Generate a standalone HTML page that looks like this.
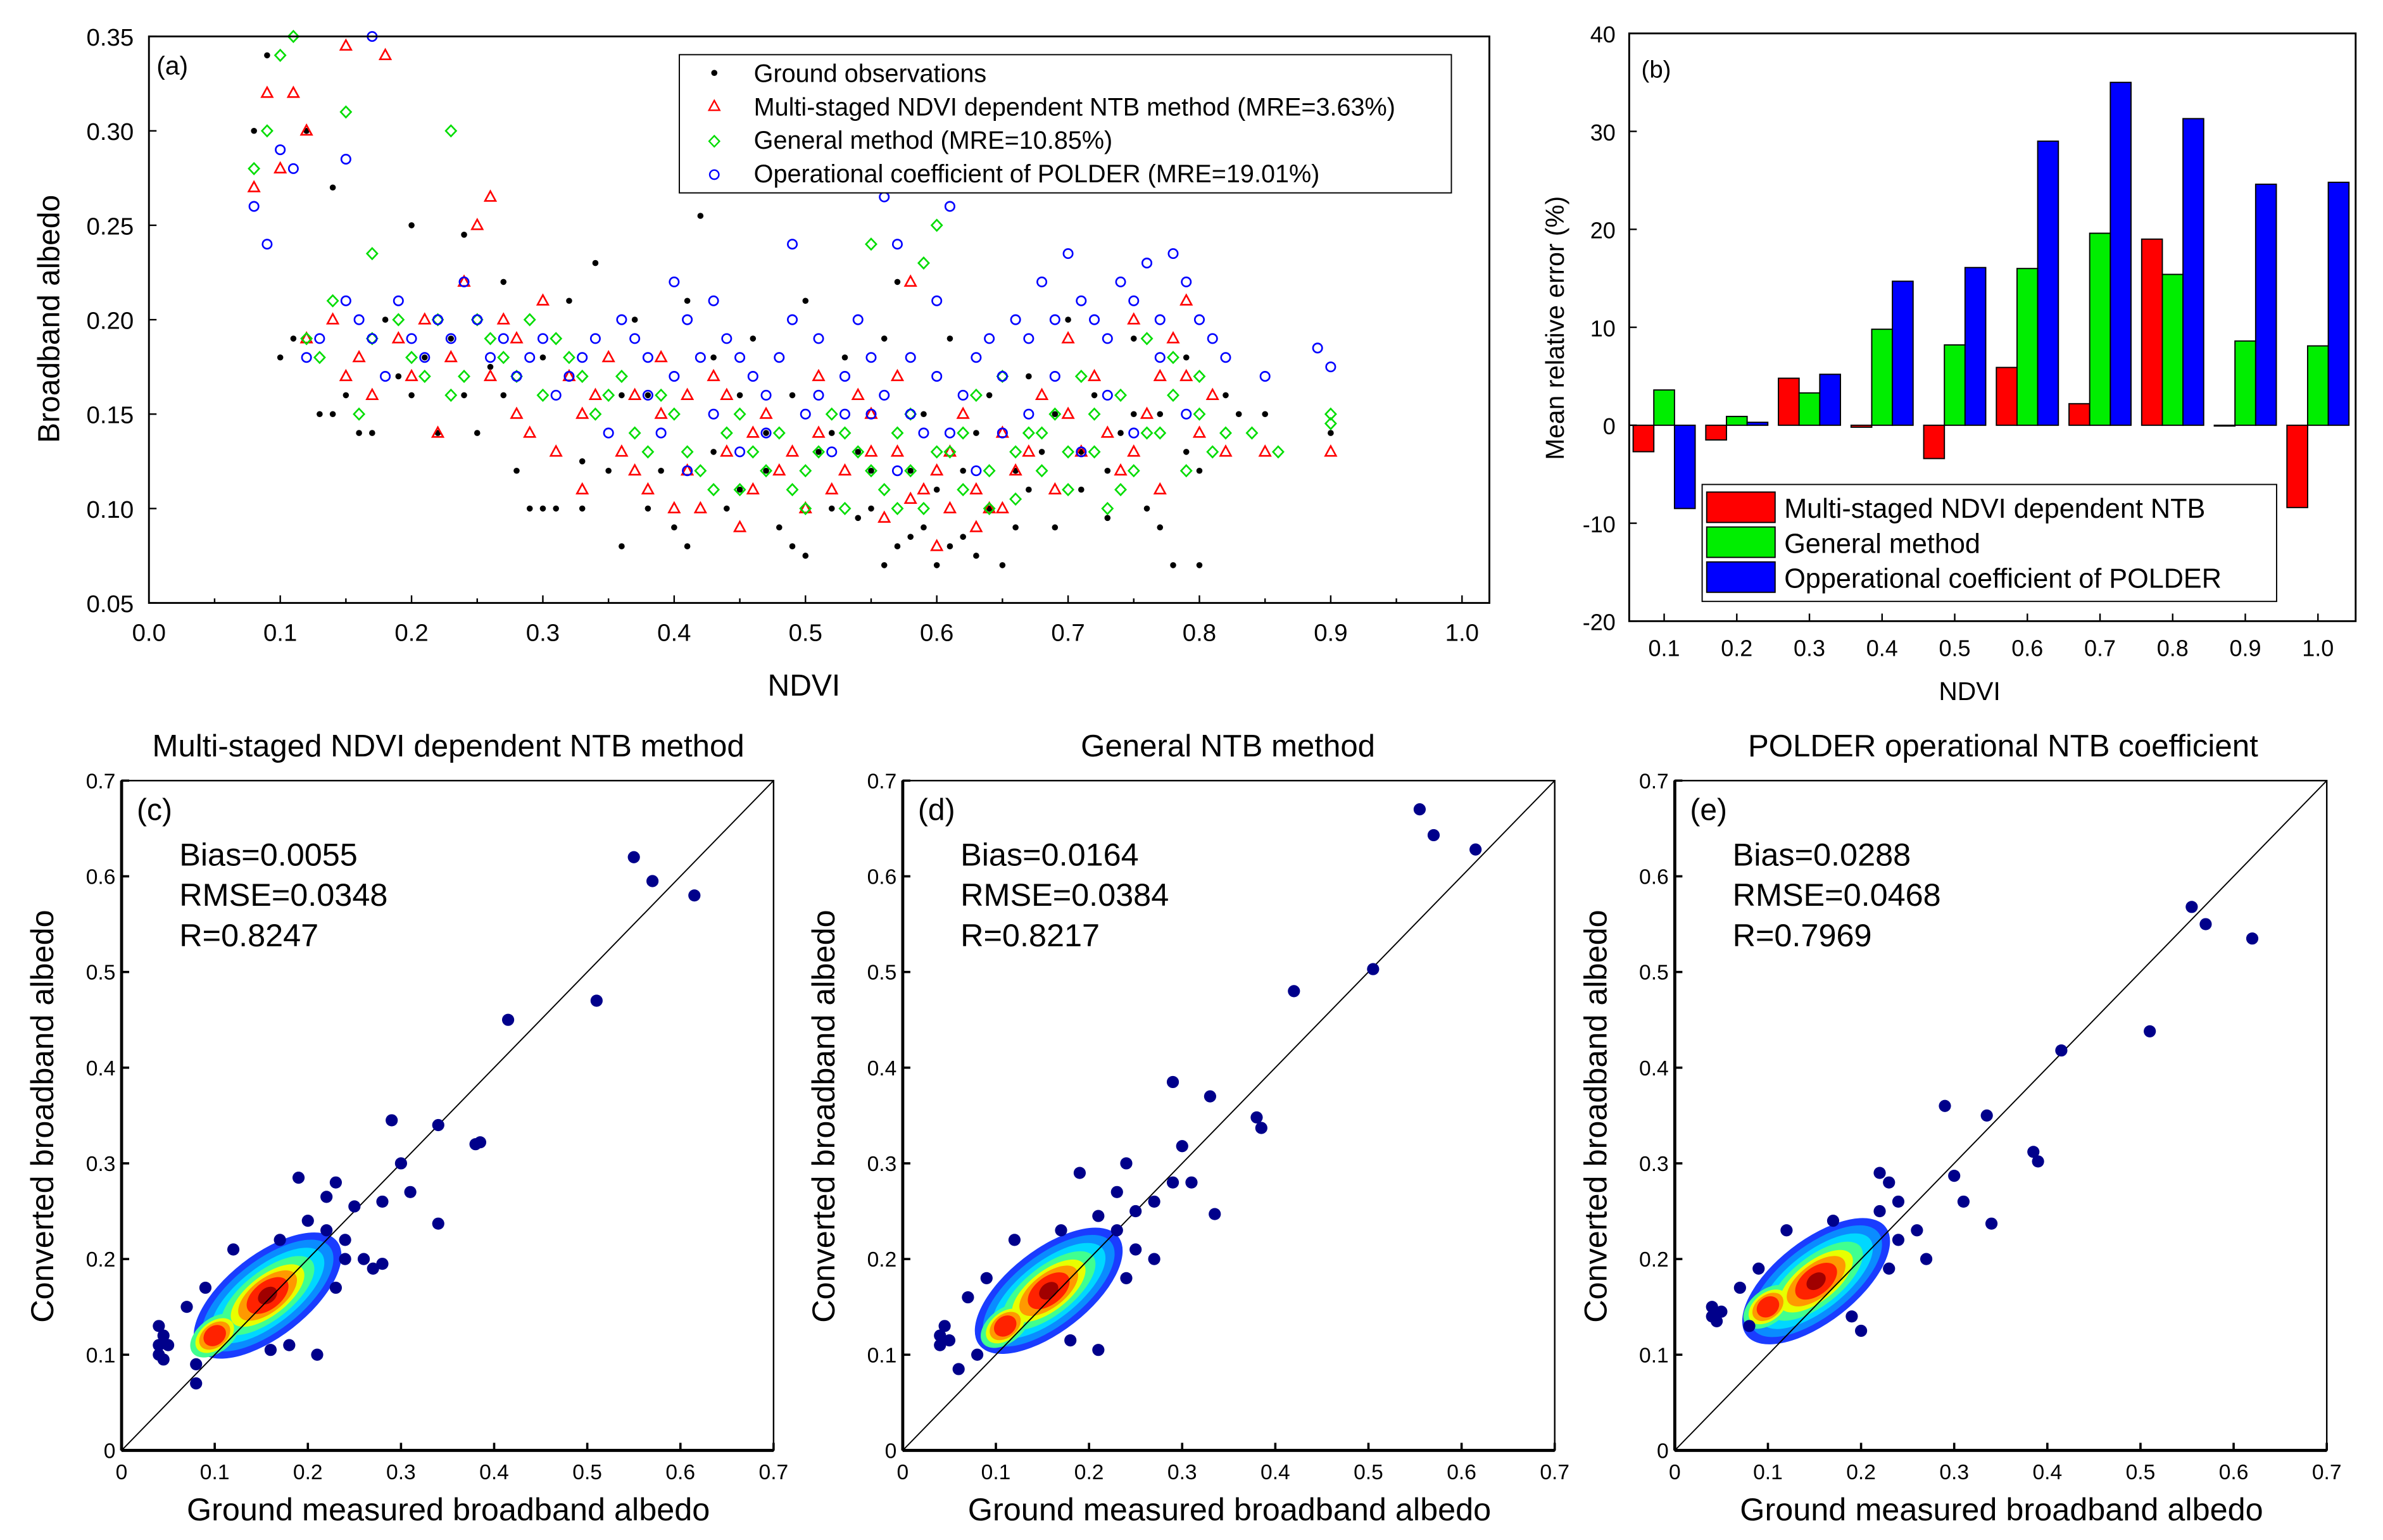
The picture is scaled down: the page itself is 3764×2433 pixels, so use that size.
<!DOCTYPE html>
<html><head><meta charset="utf-8">
<style>
html,body{margin:0;padding:0;background:#fff;}
svg{display:block;font-family:"Liberation Sans",Arial,sans-serif;}
</style></head>
<body>
<svg id="fig" width="3764" height="2433" viewBox="0 0 1568 1014" preserveAspectRatio="none" xmlns="http://www.w3.org/2000/svg">
<rect x="0" y="0" width="1568" height="1014" fill="#fff"/>
</svg>
<script>
// ===== Panel (a) data =====
const obsPts = "0.08,0.30 0.09,0.34 0.1,0.18 0.12,0.30 0.14,0.27 0.13,0.15 0.15,0.16 0.16,0.14 0.17,0.14 0.18,0.20 0.2,0.25 0.2,0.16 0.22,0.14 0.23,0.19 0.24,0.245 0.25,0.14 0.26,0.175 0.27,0.16 0.28,0.12 0.29,0.10 0.3,0.18 0.31,0.10 0.32,0.21 0.33,0.125 0.34,0.23 0.35,0.12 0.36,0.08 0.37,0.2 0.38,0.16 0.39,0.12 0.4,0.09 0.41,0.21 0.42,0.255 0.43,0.13 0.44,0.1 0.45,0.16 0.46,0.19 0.47,0.12 0.48,0.09 0.49,0.16 0.5,0.21 0.5,0.075 0.51,0.13 0.52,0.1 0.53,0.18 0.54,0.095 0.55,0.12 0.56,0.07 0.57,0.22 0.58,0.085 0.59,0.15 0.6,0.07 0.6,0.11 0.61,0.19 0.62,0.085 0.63,0.14 0.64,0.1 0.65,0.07 0.66,0.12 0.67,0.17 0.68,0.13 0.69,0.09 0.7,0.2 0.71,0.11 0.72,0.16 0.73,0.095 0.74,0.14 0.75,0.19 0.76,0.1 0.77,0.15 0.78,0.07 0.79,0.18 0.8,0.07 0.8,0.12 0.83,0.15 0.85,0.15 0.9,0.14 0.11,0.19 0.14,0.15 0.19,0.17 0.21,0.18 0.24,0.16 0.27,0.22 0.3,0.1 0.33,0.1 0.36,0.16 0.38,0.1 0.41,0.08 0.43,0.18 0.45,0.11 0.47,0.14 0.49,0.08 0.52,0.14 0.54,0.13 0.55,0.1 0.57,0.08 0.58,0.12 0.59,0.09 0.61,0.08 0.62,0.12 0.63,0.075 0.64,0.16 0.66,0.09 0.67,0.11 0.69,0.15 0.71,0.13 0.73,0.12 0.75,0.15 0.77,0.09 0.79,0.13 0.82,0.16 0.57,0.27 0.56,0.19";
const ntbPts = "0.08,0.27 0.09,0.32 0.1,0.28 0.11,0.32 0.12,0.30 0.15,0.345 0.18,0.34 0.14,0.2 0.16,0.18 0.17,0.16 0.2,0.17 0.22,0.14 0.24,0.22 0.25,0.25 0.26,0.265 0.27,0.2 0.28,0.19 0.29,0.14 0.3,0.21 0.32,0.17 0.33,0.11 0.34,0.16 0.36,0.13 0.37,0.16 0.38,0.11 0.39,0.15 0.4,0.1 0.41,0.12 0.43,0.17 0.44,0.13 0.45,0.09 0.46,0.11 0.47,0.15 0.48,0.12 0.5,0.1 0.51,0.14 0.52,0.11 0.54,0.16 0.55,0.13 0.56,0.095 0.57,0.17 0.58,0.105 0.6,0.12 0.6,0.08 0.61,0.1 0.62,0.15 0.63,0.11 0.64,0.1 0.65,0.14 0.66,0.12 0.68,0.16 0.69,0.11 0.7,0.19 0.71,0.13 0.72,0.17 0.74,0.12 0.75,0.2 0.76,0.15 0.77,0.11 0.78,0.19 0.79,0.17 0.8,0.14 0.82,0.13 0.85,0.13 0.9,0.13 0.12,0.19 0.15,0.17 0.19,0.19 0.21,0.2 0.23,0.18 0.26,0.17 0.28,0.15 0.31,0.13 0.33,0.15 0.35,0.18 0.37,0.12 0.39,0.18 0.41,0.16 0.42,0.1 0.44,0.16 0.46,0.14 0.49,0.13 0.51,0.17 0.53,0.12 0.55,0.15 0.57,0.13 0.59,0.11 0.61,0.13 0.63,0.09 0.65,0.1 0.67,0.13 0.7,0.15 0.73,0.14 0.75,0.13 0.77,0.17 0.79,0.21 0.81,0.16 0.58,0.22";
const genPts = "0.08,0.28 0.09,0.3 0.1,0.34 0.11,0.35 0.13,0.18 0.15,0.31 0.16,0.15 0.17,0.235 0.19,0.2 0.21,0.17 0.23,0.3 0.23,0.16 0.25,0.2 0.27,0.18 0.29,0.2 0.3,0.16 0.32,0.18 0.34,0.15 0.36,0.17 0.38,0.13 0.4,0.15 0.42,0.12 0.44,0.14 0.45,0.11 0.46,0.13 0.48,0.14 0.49,0.11 0.5,0.12 0.52,0.15 0.53,0.1 0.54,0.13 0.55,0.24 0.56,0.11 0.57,0.14 0.58,0.12 0.59,0.1 0.6,0.25 0.61,0.13 0.62,0.11 0.63,0.16 0.64,0.12 0.65,0.17 0.66,0.105 0.67,0.14 0.68,0.12 0.69,0.15 0.7,0.11 0.71,0.17 0.72,0.13 0.73,0.1 0.74,0.16 0.75,0.12 0.76,0.19 0.77,0.14 0.78,0.16 0.79,0.12 0.8,0.15 0.81,0.13 0.84,0.14 0.86,0.13 0.9,0.15 0.9,0.145 0.12,0.19 0.14,0.21 0.17,0.19 0.2,0.18 0.22,0.2 0.24,0.17 0.26,0.19 0.28,0.17 0.31,0.19 0.33,0.17 0.35,0.16 0.37,0.14 0.39,0.16 0.41,0.13 0.43,0.11 0.45,0.15 0.47,0.12 0.5,0.1 0.51,0.13 0.53,0.14 0.55,0.12 0.57,0.1 0.58,0.15 0.6,0.13 0.62,0.14 0.64,0.1 0.66,0.13 0.68,0.14 0.7,0.13 0.72,0.15 0.74,0.11 0.76,0.14 0.78,0.18 0.8,0.17 0.82,0.14 0.59,0.23";
const polPts = "0.08,0.26 0.09,0.24 0.1,0.29 0.11,0.28 0.12,0.18 0.15,0.285 0.17,0.35 0.16,0.2 0.18,0.17 0.2,0.19 0.22,0.2 0.24,0.22 0.26,0.18 0.28,0.17 0.3,0.19 0.31,0.16 0.33,0.18 0.35,0.14 0.37,0.19 0.38,0.16 0.39,0.14 0.4,0.22 0.41,0.12 0.42,0.18 0.43,0.15 0.44,0.19 0.45,0.13 0.46,0.17 0.47,0.14 0.48,0.18 0.49,0.24 0.5,0.15 0.51,0.19 0.52,0.13 0.53,0.17 0.54,0.2 0.55,0.15 0.56,0.265 0.57,0.12 0.58,0.18 0.59,0.14 0.6,0.21 0.61,0.26 0.62,0.16 0.63,0.12 0.64,0.19 0.65,0.14 0.66,0.2 0.67,0.15 0.68,0.22 0.69,0.17 0.7,0.235 0.71,0.13 0.72,0.2 0.73,0.16 0.74,0.22 0.75,0.14 0.76,0.23 0.77,0.18 0.78,0.235 0.79,0.15 0.8,0.2 0.82,0.18 0.85,0.17 0.89,0.185 0.9,0.175 0.13,0.19 0.15,0.21 0.17,0.19 0.19,0.21 0.21,0.18 0.23,0.19 0.25,0.2 0.27,0.19 0.29,0.18 0.32,0.17 0.34,0.19 0.36,0.2 0.38,0.18 0.4,0.17 0.41,0.2 0.43,0.21 0.45,0.18 0.47,0.16 0.49,0.2 0.51,0.16 0.53,0.15 0.55,0.18 0.56,0.16 0.58,0.15 0.6,0.17 0.61,0.14 0.63,0.18 0.65,0.17 0.67,0.19 0.69,0.2 0.71,0.21 0.73,0.19 0.75,0.21 0.77,0.2 0.79,0.22 0.81,0.19 0.57,0.24";
const aXTicks = [0,0.1,0.2,0.3,0.4,0.5,0.6,0.7,0.8,0.9,1.0];
const aYTicks = [0.05,0.10,0.15,0.20,0.25,0.30,0.35];

// ===== Panel (b) data =====
const bCats = ["0.1","0.2","0.3","0.4","0.5","0.6","0.7","0.8","0.9","1.0"];
const bNtb = [-2.7,-1.5,4.8,-0.2,-3.4,5.9,2.2,19.0,0,-8.4];
const bGen = [3.6,0.9,3.3,9.8,8.2,16.0,19.6,15.4,8.6,8.1];
const bPol = [-8.5,0.3,5.2,14.7,16.1,29.0,35.0,31.3,24.6,24.8];
const bYTicks = [-20,-10,0,10,20,30,40];

// ===== Panels (c)(d)(e) data =====
const cOut = [[0.55,0.62],[0.57,0.595],[0.615,0.58],[0.51,0.47],[0.415,0.45],[0.38,0.32],[0.385,0.322],[0.34,0.34],[0.29,0.345],[0.3,0.3],[0.34,0.237],[0.31,0.27],[0.28,0.26],[0.26,0.2],[0.27,0.19],[0.28,0.195],[0.04,0.13],[0.04,0.1],[0.045,0.12],[0.05,0.11],[0.04,0.11],[0.045,0.095],[0.08,0.07],[0.19,0.285],[0.23,0.28],[0.21,0.1],[0.25,0.255],[0.24,0.22],[0.22,0.265],[0.2,0.24],[0.22,0.23],[0.24,0.2],[0.23,0.17],[0.18,0.11],[0.16,0.105],[0.07,0.15],[0.09,0.17],[0.12,0.21],[0.17,0.22],[0.08,0.09]];
const dOut = [[0.555,0.67],[0.57,0.643],[0.615,0.628],[0.505,0.503],[0.42,0.48],[0.33,0.37],[0.29,0.385],[0.38,0.348],[0.385,0.337],[0.3,0.318],[0.335,0.247],[0.31,0.28],[0.29,0.28],[0.27,0.26],[0.04,0.12],[0.04,0.11],[0.045,0.13],[0.05,0.115],[0.06,0.085],[0.19,0.29],[0.24,0.3],[0.25,0.25],[0.21,0.105],[0.27,0.2],[0.23,0.27],[0.21,0.245],[0.23,0.23],[0.25,0.21],[0.24,0.18],[0.18,0.115],[0.07,0.16],[0.09,0.18],[0.12,0.22],[0.17,0.23],[0.08,0.1]];
const eOut = [[0.555,0.568],[0.57,0.55],[0.62,0.535],[0.51,0.438],[0.415,0.418],[0.29,0.36],[0.335,0.35],[0.385,0.312],[0.39,0.302],[0.3,0.287],[0.34,0.237],[0.31,0.26],[0.04,0.15],[0.04,0.14],[0.05,0.145],[0.045,0.135],[0.22,0.29],[0.24,0.26],[0.27,0.2],[0.2,0.125],[0.23,0.28],[0.26,0.23],[0.22,0.25],[0.24,0.22],[0.23,0.19],[0.19,0.14],[0.07,0.17],[0.09,0.19],[0.12,0.23],[0.17,0.24],[0.08,0.13]];
const cCore = [[0.16,0.165],[0.10,0.12]];
const dCore = [[0.16,0.17],[0.11,0.13]];
const eCore = [[0.155,0.18],[0.10,0.15]];
const sXTicks = [0,0.1,0.2,0.3,0.4,0.5,0.6,0.7];

const NS="http://www.w3.org/2000/svg";
const svg=document.getElementById('fig');
function mk(tag,attrs,parent){const e=document.createElementNS(NS,tag);for(const k in attrs)e.setAttribute(k,attrs[k]);(parent||svg).appendChild(e);return e;}
function txt(s,x,y,size,anchor,parent,rot){const t=mk('text',{x:x,y:y,'font-size':size,'text-anchor':anchor||'start',fill:'#000'},parent);if(rot)t.setAttribute('transform',`rotate(${rot} ${x} ${y})`);t.textContent=s;return t;}
function parsePts(s){return s.trim().split(/\s+/).map(p=>p.split(',').map(Number));}

// ===== Panel (a) =====
const gA=mk('g',{});


const aL=98,aR=962,aT=24,aB=397,aBoxR=980;
const ax=v=>aL+(v-0)/(1.0)*(aR-aL);
const ay=v=>aB-(v-0.05)/(0.30)*(aB-aT);
function drawSeries(pts,kind,color,name){
  const g=mk('g',{},gA);
  
  
  parsePts(pts).forEach(([x,y])=>{
    const X=ax(x),Y=ay(y);
    if(kind==='dot'){mk('circle',{cx:X,cy:Y,r:2,fill:color},g);}
    else if(kind==='tri'){mk('polygon',{points:`${X},${Y-3.8} ${X-3.5},${Y+2.6} ${X+3.5},${Y+2.6}`,fill:'none',stroke:color,'stroke-width':1.1},g);}
    else if(kind==='dia'){mk('polygon',{points:`${X},${Y-3.6} ${X+3.4},${Y} ${X},${Y+3.6} ${X-3.4},${Y}`,fill:'none',stroke:color,'stroke-width':1.1},g);}
    else {mk('circle',{cx:X,cy:Y,r:3,fill:'none',stroke:color,'stroke-width':1.1},g);}
  });
}
drawSeries(obsPts,'dot','#000','ground-observations-series');
drawSeries(ntbPts,'tri','#ff0000','ntb-method-series');
drawSeries(genPts,'dia','#00dd00','general-method-series');
drawSeries(polPts,'circ','#0000ff','polder-series');
mk('rect',{x:aL,y:aT,width:aBoxR-aL,height:aB-aT,fill:'none',stroke:'#000','stroke-width':1.2},gA);
aXTicks.forEach(v=>{const X=ax(v);mk('line',{x1:X,y1:aB,x2:X,y2:aB-5,stroke:'#000','stroke-width':1},gA);txt(v.toFixed(1),X,aB+25,16,'middle',gA);});
for(let v=0.05;v<1.0;v+=0.1){const X=ax(v);mk('line',{x1:X,y1:aB,x2:X,y2:aB-3,stroke:'#000','stroke-width':1},gA);}
aYTicks.forEach(v=>{const Y=ay(v);mk('line',{x1:aL,y1:Y,x2:aL+5,y2:Y,stroke:'#000','stroke-width':1},gA);txt(v.toFixed(2),88,Y+6,16,'end',gA);});
txt('NDVI',529,458,20,'middle',gA);
txt('Broadband albedo',39,210,20,'middle',gA,-90);
txt('(a)',103,49,17,'start',gA);
const lgA=mk('g',{},gA);


mk('rect',{x:447,y:36,width:508,height:91,fill:'#fff',stroke:'#000','stroke-width':0.8},lgA);
mk('circle',{cx:470,cy:48,r:2,fill:'#000'},lgA);
mk('polygon',{points:'470,66.2 466.5,72.6 473.5,72.6',fill:'none',stroke:'#f00'},lgA);
mk('polygon',{points:'470,89.4 473.4,93 470,96.6 466.6,93',fill:'none',stroke:'#0d0'},lgA);
mk('circle',{cx:470,cy:115,r:3,fill:'none',stroke:'#00f'},lgA);
txt('Ground observations',496,54,16.5,'start',lgA);
txt('Multi-staged NDVI dependent NTB method (MRE=3.63%)',496,76,16.5,'start',lgA);
txt('General method (MRE=10.85%)',496,98,16.5,'start',lgA);
txt('Operational coefficient of POLDER (MRE=19.01%)',496,120,16.5,'start',lgA);

// ===== Panel (b) =====
const gB=mk('g',{});


const bL=1072,bR=1550,bT=22,bB=409;
const by=v=>bB-(v+20)/60*(bB-bT);
const bx=i=>1095+i*47.8;
const bw=13.6;
bCats.forEach((c,i)=>{
  const cx=bx(i);
  [[bNtb,'#ff0000',-1.5,'bar-ntb-'],[bGen,'#00ee00',-0.5,'bar-general-'],[bPol,'#0000ff',0.5,'bar-polder-']].forEach(([arr,col,off,nm])=>{
    const v=arr[i];const y0=by(0),y1=by(v);
    const r=mk('rect',{x:cx+off*bw,y:Math.min(y0,y1),width:bw,height:Math.max(Math.abs(y1-y0),0.5),fill:col,stroke:'#000','stroke-width':0.8},gB);
    
    
  });
  mk('line',{x1:cx,y1:bB,x2:cx,y2:bB-5,stroke:'#000'},gB);
  txt(c,cx,bB+23,15,'middle',gB);
});
mk('rect',{x:bL,y:bT,width:bR-bL,height:bB-bT,fill:'none',stroke:'#000','stroke-width':1.2},gB);
bYTicks.forEach(v=>{const Y=by(v);mk('line',{x1:bL,y1:Y,x2:bL+5,y2:Y,stroke:'#000'},gB);txt(String(v),1063,Y+6,15,'end',gB);});
txt('NDVI',1296,461,17,'middle',gB);
txt('Mean relative error (%)',1029,216,17,'middle',gB,-90);
txt('(b)',1080,51,16,'start',gB);
const lgB=mk('g',{},gB);


mk('rect',{x:1120,y:319,width:378,height:77,fill:'#fff',stroke:'#000','stroke-width':0.8},lgB);
[['#ff0000','Multi-staged NDVI dependent NTB',324],['#00ee00','General method',347],['#0000ff','Opperational coefficient of POLDER',370]].forEach(([c,s,y])=>{
  mk('rect',{x:1123,y:y,width:45,height:20,fill:c,stroke:'#000','stroke-width':0.8},lgB);
  txt(s,1174,y+17,18,'start',lgB);
});

// ===== Panels c,d,e =====
function densityPanel(x0,title,titleX,label,stats,outs,cores,name){
  const g=mk('g',{});
  
  
  const T=514,B=955,W=429;
  const sx=v=>x0+v/0.7*W;
  const sy=v=>B-v/0.7*(B-T);
  const layers=[[58,27,'#1a3cff'],[52,23,'#0a8cff'],[45,19,'#00d8ff'],[37,16,'#40ff90'],[29,13,'#e8ff00'],[23,11,'#ff9900'],[16,9,'#ff2200'],[7,5,'#a00000']];
  const [mx,my]=cores[0],[s2x,s2y]=cores[1];
  layers.forEach(([rx,ry,col],k)=>{
    mk('ellipse',{cx:sx(mx)-2,cy:sy(my)+2,rx:rx,ry:ry,fill:col,transform:`rotate(-38 ${sx(mx)-2} ${sy(my)+2})`},g);
    if(k>=3&&k<=6){mk('ellipse',{cx:sx(s2x),cy:sy(s2y),rx:rx*0.5,ry:ry*0.7,fill:col,transform:`rotate(-38 ${sx(s2x)} ${sy(s2y)})`},g);}
  });
  mk('line',{x1:sx(0),y1:sy(0),x2:sx(0.7),y2:sy(0.7),stroke:'#000','stroke-width':0.8},g);
  outs.forEach(([x,y])=>{mk('circle',{cx:sx(x),cy:sy(y),r:4,fill:'#00008b'},g);});
  mk('rect',{x:x0,y:T,width:W,height:B-T,fill:'none',stroke:'#000','stroke-width':1},g);
  mk('line',{x1:x0,y1:B,x2:x0+W,y2:B,stroke:'#000','stroke-width':2},g);
  mk('line',{x1:x0,y1:T,x2:x0,y2:B,stroke:'#000','stroke-width':2},g);
  sXTicks.forEach(v=>{
    mk('line',{x1:sx(v),y1:B,x2:sx(v),y2:B-5,stroke:'#000','stroke-width':1.5},g);
    txt(v===0?'0':String(v),sx(v),B+19,14,'middle',g);
    mk('line',{x1:x0,y1:sy(v),x2:x0+5,y2:sy(v),stroke:'#000','stroke-width':1.5},g);
    txt(v===0?'0':String(v),x0-4,sy(v)+5,14,'end',g);
  });
  txt(title,titleX,498,20.5,'middle',g);
  txt('Ground measured broadband albedo',x0+215,1001,21,'middle',g);
  txt('Converted broadband albedo',x0-45,735,21,'middle',g,-90);
  txt(label,x0+10,540,20,'start',g);
  stats.forEach((s,i)=>txt(s,x0+38,570+i*26.5,21,'start',g));
}
densityPanel(80,'Multi-staged NDVI dependent NTB method',295,'(c)',['Bias=0.0055','RMSE=0.0348','R=0.8247'],cOut,cCore,'panel-c');
densityPanel(594,'General NTB method',808,'(d)',['Bias=0.0164','RMSE=0.0384','R=0.8217'],dOut,dCore,'panel-d');
densityPanel(1102,'POLDER operational NTB coefficient',1318,'(e)',['Bias=0.0288','RMSE=0.0468','R=0.7969'],eOut,eCore,'panel-e');
</script>
</body></html>
